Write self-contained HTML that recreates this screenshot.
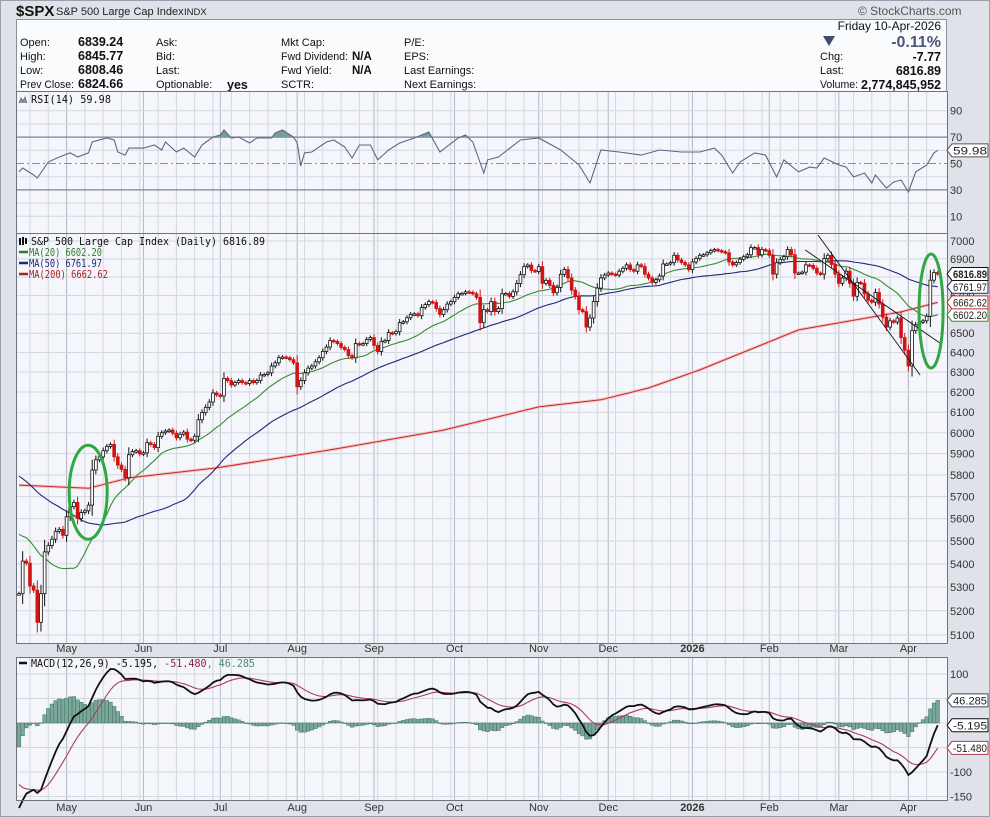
<!DOCTYPE html>
<html><head><meta charset="utf-8"><title>$SPX chart</title>
<style>
html,body{margin:0;padding:0;background:#dcdfe5;}
svg{display:block;font-family:"Liberation Sans",sans-serif;}
.mono{font-family:"DejaVu Sans Mono","Liberation Mono",monospace;}
</style></head>
<body>
<svg id="chart" width="990" height="817" viewBox="0 0 990 817" xmlns="http://www.w3.org/2000/svg">
  <rect x="0" y="0" width="990" height="817" fill="#dfe2e8"/>
  <rect x="0.5" y="0.5" width="989" height="816" fill="none" stroke="#9aa0ab"/>
  <text x="16" y="16" font-size="15" font-weight="bold" fill="#111">$SPX</text>
  <text x="56" y="15" font-size="11" fill="#222">S&amp;P 500 Large Cap Index</text>
  <text x="184" y="15" font-size="9.5" fill="#222">INDX</text>
  <text x="858" y="15" font-size="12" fill="#555">© StockCharts.com</text>

  <g>
    <rect x="16.5" y="19.5" width="930" height="72" fill="#fafbfd" stroke="#8a8f99"/>
    <g font-size="11" fill="#111">
      <text x="20" y="46">Open:</text>
      <text x="20" y="60">High:</text>
      <text x="20" y="74">Low:</text>
      <text x="20" y="88" textLength="54" lengthAdjust="spacingAndGlyphs">Prev Close:</text>
      <text x="156" y="46">Ask:</text>
      <text x="156" y="60">Bid:</text>
      <text x="156" y="74">Last:</text>
      <text x="156" y="88">Optionable:</text>
      <text x="281" y="46">Mkt Cap:</text>
      <text x="281" y="60" textLength="67" lengthAdjust="spacingAndGlyphs">Fwd Dividend:</text>
      <text x="281" y="74">Fwd Yield:</text>
      <text x="281" y="88">SCTR:</text>
      <text x="404" y="46">P/E:</text>
      <text x="404" y="60">EPS:</text>
      <text x="404" y="74">Last Earnings:</text>
      <text x="404" y="88">Next Earnings:</text>
      <text x="820" y="60">Chg:</text>
      <text x="820" y="74">Last:</text>
      <text x="820" y="88" textLength="38" lengthAdjust="spacingAndGlyphs">Volume:</text>
    </g>
    <g font-size="12.5" font-weight="bold" fill="#111">
      <text x="78" y="46">6839.24</text>
      <text x="78" y="60">6845.77</text>
      <text x="78" y="74">6808.46</text>
      <text x="78" y="88">6824.66</text>
      <text x="227" y="89">yes</text>
      <text x="352" y="60" font-size="11.5">N/A</text>
      <text x="352" y="74" font-size="11.5">N/A</text>
      <text x="941" y="61" text-anchor="end">-7.77</text>
      <text x="941" y="75" text-anchor="end">6816.89</text>
      <text x="941" y="89" text-anchor="end" textLength="80" lengthAdjust="spacingAndGlyphs">2,774,845,952</text>
    </g>
    <text x="941" y="30" font-size="12" text-anchor="end" fill="#111">Friday  10-Apr-2026</text>
    <polygon points="823,36 835,36 829,46" fill="#3f4d6b"/>
    <text x="941" y="47" font-size="16" font-weight="bold" text-anchor="end" fill="#4a5677">-0.11%</text>
  </g>

  <g id="panels"></g>
</svg>

<script>
// ---------- DATA ----------
const preCloses = [6012,6067,6039,6071,6041,5994,6037,6061,6083,6025,6026,6068,6051,6115,6144,6129,6117,6013,5983,5955,
5983,6014,5954,5849,5842,5738,5770,5739,5614,5572,5599,5521,5638,5675,5615,5662,5667,5767,5776,5712,5693,
5580,5612,5633,5671,5396,5074,5062,4982];

const closes = [5272,5412,5403,5305,5287,5152,5272,5452,5480,5508,
5543,5552,5525,5608,5654,5673,5600,5627,5635,5661,
5823,5871,5885,5914,5934,5944,5885,5846,5826,5787,
5895,5910,5914,5899,5904,5952,5944,5929,5983,6000,
6008,6013,5998,5976,5993,6003,5969,5964,5983,6063,
6098,6124,6150,6195,6185,6180,6268,6257,6235,6247,
6257,6247,6242,6257,6247,6257,6285,6288,6296,6331,
6347,6373,6377,6373,6363,6347,6226,6257,6296,6320,
6331,6352,6373,6405,6428,6462,6457,6446,6426,6415,
6384,6373,6446,6441,6446,6467,6477,6436,6405,6457,
6462,6503,6498,6508,6555,6560,6581,6599,6602,6592,
6635,6651,6667,6662,6630,6599,6624,6654,6667,6690,
6709,6711,6720,6717,6709,6690,6555,6624,6614,6667,
6614,6630,6709,6711,6695,6720,6765,6813,6857,6866,
6836,6831,6857,6766,6782,6755,6715,6744,6815,6841,
6795,6729,6695,6624,6614,6532,6580,6667,6740,6795,
6811,6822,6816,6811,6832,6848,6867,6841,6832,6867,
6858,6816,6795,6771,6785,6806,6872,6872,6880,6920,
6894,6880,6867,6841,6883,6902,6920,6923,6934,6946,
6952,6946,6940,6934,6883,6867,6880,6898,6912,6923,
6963,6963,6923,6952,6946,6920,6816,6879,6898,6912,
6952,6923,6822,6822,6827,6867,6864,6848,6822,6816,
6902,6920,6869,6816,6766,6795,6832,6766,6696,6771,
6766,6708,6674,6664,6716,6654,6584,6532,6565,6558,
6580,6477,6412,6331,6513,6544,6558,6565,6589,6783,
6824.66,6816.89];

const ma200Index = [0,19,30,54,85,116,142,159,172,186,213,241,251];
const ma200Values = [5753,5738,5786,5833,5918,6013,6126,6161,6220,6311,6517,6612,6663];

const rsiIndex = [0,1,4,5,8,11,14,16,19,20,24,26,27,29,30,34,37,39,40,43,45,48,50,53,55,56,58,60,63,65,69,70,72,75,76,77,78,80,84,86,89,91,93,96,98,101,104,108,112,115,120,122,124,127,128,131,137,142,148,153,156,159,164,170,175,181,186,190,192,195,197,201,204,207,209,213,216,218,220,224,226,228,231,233,234,237,239,241,243,245,248,250,251];
const rsiValues = [43.6,46.6,41.3,39.0,51.1,54.9,58.0,54.9,58.0,66.3,69.3,67.8,58.7,56.4,61.7,61.7,64.0,60.2,66.3,58.7,61.7,54.9,64.0,70.1,71.6,75.4,69.3,70.1,65.5,69.3,69.3,73.1,75.4,70.1,65.5,48.1,58.0,58.7,66.3,67.8,62.5,54.2,64.0,64.0,52.7,60.2,65.5,69.3,73.9,58.7,69.3,71.6,66.3,42.8,52.7,54.9,67.8,69.3,60.2,48.9,35.2,60.2,58.7,56.4,60.2,58.7,58.7,61.7,56.4,42.8,51.1,58.0,56.4,39.8,52.7,43.6,47.3,46.6,54.2,48.9,47.3,39.8,42.8,35.2,41.3,31.4,36.0,37.5,28.4,43.6,48.9,58.0,59.98];

const monthLabels = ["May","Jun","Jul","Aug","Sep","Oct","Nov","Dec","2026","Feb","Mar","Apr"];
const monthIndex  = [13,34,55,76,97,119,142,161,184,205,224,243];
const priceTicks = [5100,5200,5300,5400,5500,5600,5700,5800,5900,6000,6100,6200,6300,6400,6500,6600,6700,6800,6900,7000];
const rsiTicks = [90,70,50,30,10];
const rsiGrid = [10,20,30,40,50,60,70,80,90];
const macdTicks = [100,-100,-150];
const macdGrid = [100,50,0,-50,-100,-150];

// annotations (bar index, price)
const trendStartIdx = [218.3,214.8];
const trendStartVal = [7034,6950];
const trendEndIdx = [246.2,251.6];
const trendEndVal = [6285,6449];
const circleIdx = [18.9,249.2];
const circleVal = [5720,6617];

// ---------- AXES ----------
const X0 = 19, DX = 3.66, PL = 16, PR = 947;
const xOf = i => X0 + i*DX;
const yPrice = v => 241 + 1244*Math.log(7000/v);
const yRsi = v => 163.5 - (v-50)*1.32;
const yMacd = v => 723 - v*0.49;
const RSI_T=91, RSI_B=233, PR_T=233, PR_B=643, MC_T=657, MC_B=800;

const NS = 'http://www.w3.org/2000/svg';
const root = document.getElementById('panels');
function mk(tag, attrs, parent){
  const e = document.createElementNS(NS, tag);
  for (const k in attrs) e.setAttribute(k, attrs[k]);
  (parent||root).appendChild(e);
  return e;
}
function grp(parent){ return mk('g', {}, parent); }

// ---------- computations ----------
const all = preCloses.concat(closes);
const P = preCloses.length;
function sma(n, k){ let s=0; for(let j=k-n+1;j<=k;j++) s+=all[j]; return s/n; }
function ema(arr, n){ const a=2/(n+1); const out=[arr[0]]; for(let k=1;k<arr.length;k++) out.push(a*arr[k]+(1-a)*out[k-1]); return out; }
const ma20 = closes.map((c,i)=>sma(20,i+P));
const ma50 = closes.map((c,i)=>sma(50,i+P));
const e12 = ema(all,12), e26 = ema(all,26);
const macdAll = all.map((v,k)=>e12[k]-e26[k]);
const sigAll = ema(macdAll,9);
const macd = closes.map((c,i)=>macdAll[i+P]);
const signal = closes.map((c,i)=>sigAll[i+P]);
const hist = macd.map((m,i)=>m-signal[i]);

// ---------- panel backgrounds & grids ----------
function panelBg(top,bottom,name){
  const r = mk('rect',{x:PL+0.5,y:top+0.5,width:PR-PL,height:bottom-top,fill:'#f4f6fb',stroke:'none'});
  
  
}
panelBg(RSI_T,RSI_B,'rsi-panel-background');
panelBg(PR_T,PR_B,'price-panel-background');
panelBg(MC_T,MC_B,'macd-panel-background');

const gridG = grp();


function vgrid(top,bottom){
  for(let i=3;i<closes.length;i+=5){
    const l = mk('line',{x1:xOf(i),x2:xOf(i),y1:top,y2:bottom,stroke:'#d3d7df','stroke-width':1},gridG);
    
    
  }
  monthIndex.forEach(mi=>{
    const l = mk('line',{x1:xOf(mi),x2:xOf(mi),y1:top,y2:bottom,stroke:'#b5b9c3','stroke-width':1},gridG);
    
    
  });
}
vgrid(RSI_T,RSI_B); vgrid(PR_T,PR_B); vgrid(MC_T,MC_B);
rsiGrid.forEach(v=>{
  const strong = (v===70||v===30);
  const l = mk('line',{x1:PL,x2:PR,y1:yRsi(v),y2:yRsi(v),stroke:strong?'#7d8190':'#d3d7df','stroke-width':strong?1.3:1,'stroke-dasharray':v===50?'8,3,2,3':'none'},gridG);
  if(v===50) l.setAttribute('stroke','#8a8e99');
  
  
});
priceTicks.forEach(v=>{
  const l = mk('line',{x1:PL,x2:PR,y1:yPrice(v),y2:yPrice(v),stroke:'#d3d7df','stroke-width':1},gridG);
  
  
});
macdGrid.forEach(v=>{
  const l = mk('line',{x1:PL,x2:PR,y1:yMacd(v),y2:yMacd(v),stroke:'#d3d7df','stroke-width':1},gridG);
  
  
});

// ---------- RSI ----------
const rsiG = grp();


const defs = mk('defs',{});
const cpA = mk('clipPath',{id:'rsiAbove'},defs);
mk('rect',{x:PL,y:RSI_T,width:PR-PL,height:yRsi(70)-RSI_T},cpA);
const cpB = mk('clipPath',{id:'rsiBelow'},defs);
mk('rect',{x:PL,y:yRsi(30),width:PR-PL,height:RSI_B-yRsi(30)},cpB);
const rsiPts = rsiValues.map((v,k)=>xOf(rsiIndex[k]).toFixed(1)+','+yRsi(v).toFixed(1));
const lastR = rsiIndex[rsiIndex.length-1];
const aboveArea = mk('polygon',{points:xOf(rsiIndex[0])+','+yRsi(70)+' '+rsiPts.join(' ')+' '+xOf(lastR)+','+yRsi(70),fill:'#7a9c9c','clip-path':'url(#rsiAbove)'},rsiG);


const belowArea = mk('polygon',{points:xOf(rsiIndex[0])+','+yRsi(30)+' '+rsiPts.join(' ')+' '+xOf(lastR)+','+yRsi(30),fill:'#7a9c9c','clip-path':'url(#rsiBelow)'},rsiG);


const rsiLine = mk('polyline',{points:rsiPts.join(' '),fill:'none',stroke:'#5d6785','stroke-width':1.1},rsiG);



// ---------- PRICE ----------
const prG = grp();


function maLine(vals, idxs, color, w, name){
  const pts = vals.map((v,k)=>xOf(idxs?idxs[k]:k).toFixed(1)+','+yPrice(v).toFixed(1)).join(' ');
  const l = mk('polyline',{points:pts,fill:'none',stroke:color,'stroke-width':w,'stroke-linejoin':'round'},prG);
  
  
}
maLine(ma200Values, ma200Index, '#f5c4c4', 3, 'ma200-glow');
maLine(ma200Values, ma200Index, '#c62a2a', 1, 'ma200-line');
maLine(ma50, null, '#23287a', 1.1, 'ma50-line');
maLine(ma20, null, '#3b8a33', 1.1, 'ma20-line');
closes.forEach((c,i)=>{
  const o = i===0 ? c : closes[i-1];
  const up = c>=o;
  const col = up ? '#111' : '#d01515';
  const top = Math.max(o,c), bot = Math.min(o,c);
  const ext = 8 + Math.abs(c-o)*0.25;
  const x = xOf(i);
  const w = mk('line',{x1:x,x2:x,y1:yPrice(top+ext),y2:yPrice(bot-ext),stroke:col,'stroke-width':1},prG);
  
  
  const yt = yPrice(top), yb = yPrice(bot);
  const b = mk('rect',{x:x-1.4,y:yt,width:2.8,height:Math.max(yb-yt,1.5),fill:up?'#fff':col,stroke:col,'stroke-width':0.8},prG);
  
  
});
for(let k=0;k<trendStartIdx.length;k++){
  const t = mk('line',{x1:xOf(trendStartIdx[k]),y1:yPrice(trendStartVal[k]),x2:xOf(trendEndIdx[k]),y2:yPrice(trendEndVal[k]),stroke:'#111','stroke-width':0.9},prG);
  
  
}
const cR = [[19,47],[12,57]];
for(let k=0;k<circleIdx.length;k++){
  const e = mk('ellipse',{cx:xOf(circleIdx[k]),cy:yPrice(circleVal[k]),rx:cR[k][0],ry:cR[k][1],fill:'none',stroke:'#32a845','stroke-width':3},prG);
  
  
}

// ---------- MACD ----------
const mcG = grp();


hist.forEach((h,i)=>{
  const y0 = yMacd(0), y1 = yMacd(h);
  const r = mk('rect',{x:xOf(i)-1.83,y:Math.min(y0,y1),width:3.66,height:Math.max(Math.abs(y1-y0),0.5),fill:'#79a89a',stroke:'#3f6f63','stroke-width':0.5},mcG);
  
  
});
const sigLine = mk('polyline',{points:signal.map((v,i)=>xOf(i).toFixed(1)+','+yMacd(v).toFixed(1)).join(' '),fill:'none',stroke:'#b03a5b','stroke-width':1.1},mcG);


const mLine = mk('polyline',{points:macd.map((v,i)=>xOf(i).toFixed(1)+','+yMacd(v).toFixed(1)).join(' '),fill:'none',stroke:'#111','stroke-width':1.8},mcG);



// ---------- panel borders ----------
[[RSI_T,RSI_B,'rsi-panel-border'],[PR_T,PR_B,'price-panel-border'],[MC_T,MC_B,'macd-panel-border']].forEach(p=>{
  const r = mk('rect',{x:PL+0.5,y:p[0]+0.5,width:PR-PL,height:p[1]-p[0],fill:'none',stroke:'#6f7380','stroke-width':1});
  
  
});

// ---------- axis labels ----------
const axG = grp();


function axText(x,y,txt,name,extra){
  const t = mk('text',Object.assign({x:x,y:y,'font-size':11,fill:'#333'},extra||{}),axG);
  t.textContent = txt;
  
  
  return t;
}
rsiTicks.forEach(v=>axText(950,yRsi(v)+4,String(v),'rsi-tick-label'));
priceTicks.forEach(v=>axText(950,yPrice(v)+4,String(v),'price-tick-label'));
macdTicks.forEach(v=>axText(950,yMacd(v)+4,String(v),'macd-tick-label'));
monthLabels.forEach((m,k)=>{
  const bold = m==='2026' ? {'font-weight':'bold'} : {};
  axText(xOf(monthIndex[k]),652,m,'x-axis-month-label',Object.assign({'text-anchor':'middle'},bold));
  axText(xOf(monthIndex[k]),811,m,'x-axis-month-label',Object.assign({'text-anchor':'middle'},bold));
});

// value tags on right axis
function tag(y,txt,color,name,bold){
  const g = grp(axG);
  
  
  const p = mk('polygon',{points:`${947},${y} ${952},${y-6.5} ${988},${y-6.5} ${988},${y+6.5} ${952},${y+6.5}`,fill:'#fff',stroke:color,'stroke-width':1},g);
  
  
  const t = mk('text',{x:953,y:y+4,'font-size':11,fill:'#222','font-weight':bold?'bold':'normal',textLength:34,lengthAdjust:'spacingAndGlyphs'},g);
  t.textContent = txt;
  
  
}
const L = closes.length-1;
tag(yRsi(rsiValues[rsiValues.length-1]),'59.98','#555','rsi-value-tag');
tag(yPrice(ma20[L]),'6602.20','#3b8a33','ma20-value-tag');
tag(yPrice(ma200Values[ma200Values.length-1]),'6662.62','#c62a2a','ma200-value-tag');
tag(yPrice(ma50[L]),'6761.97','#23287a','ma50-value-tag');
tag(yPrice(closes[L]),'6816.89','#111','last-price-tag',true);
tag(yMacd(hist[L]),'46.285','#3f4d6b','macd-hist-value-tag');
tag(yMacd(macd[L]),'-5.195','#111','macd-value-tag');
tag(yMacd(signal[L]),'-51.480','#b03a5b','macd-signal-value-tag');

// ---------- legends ----------
function legend(x,y,parts,name,len){
  const t = mk('text',{x:x,y:y,'font-size':10.5,class:'mono'},axG);
  if(len){ t.setAttribute('textLength',len); t.setAttribute('lengthAdjust','spacingAndGlyphs'); }
  
  
  parts.forEach(p=>{ const s = mk('tspan',{fill:p[1]},t); s.textContent = p[0]; });
}
const ri = mk('polyline',{points:'19,103 21,98 23,101 25,97 27,103',fill:'#7a9c9c',stroke:'#5d6785','stroke-width':0.8},axG);


legend(31,103,[['RSI(14) 59.98','#111']],'rsi-legend',80);
const ci = mk('path',{d:'M20 238v7M23 237v8M26 238v6',stroke:'#111','stroke-width':2},axG);


legend(31,245,[['S&P 500 Large Cap Index (Daily) 6816.89','#111']],'price-legend',234);
[['MA(20) 6602.20','#2f7d2a',256,'ma20-legend',73],['MA(50) 6761.97','#23287a',267,'ma50-legend',73],['MA(200) 6662.62','#b02020',278,'ma200-legend',79]].forEach(m=>{
  const s = mk('line',{x1:19,x2:28,y1:m[2]-4,y2:m[2]-4,stroke:m[1],'stroke-width':2.5},axG);
  
  
  legend(29,m[2],[[m[0],m[1]]],m[3],m[4]);
});
const mi = mk('line',{x1:19,x2:27,y1:663,y2:663,stroke:'#111','stroke-width':2.5},axG);


legend(31,667,[['MACD(12,26,9) -5.195, ','#111'],['-51.480','#8a1f45'],[', 46.285','#4f8a7a']],'macd-legend',224);
</script>
</body></html>
